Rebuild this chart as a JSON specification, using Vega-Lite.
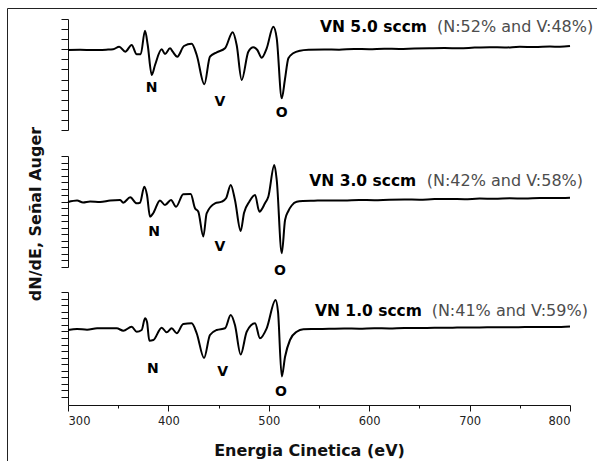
{
  "$schema": "https://vega.github.io/schema/vega-lite/v6.json",
  "width": 590,
  "height": 453,
  "autosize": {"type": "none"},
  "padding": {"left": 7, "top": 8, "right": 0, "bottom": 0},
  "background": "white",
  "config": {
    "view": {"stroke": "#222", "strokeWidth": 1},
    "font": "DejaVu Sans",
    "axis": {"grid": false, "domainColor": "#111", "tickColor": "#111", "domainWidth": 1, "tickWidth": 1}
  },
  "datasets": {
    "top": [
      {"e": 300, "h": 80}, {"e": 312, "h": 80.2}, {"e": 325, "h": 79.9}, {"e": 338, "h": 80.3},
      {"e": 345, "h": 80.7}, {"e": 351, "h": 83.3}, {"e": 357, "h": 78.3}, {"e": 363.4, "h": 85},
      {"e": 368.4, "h": 75.7}, {"e": 372.4, "h": 75.7}, {"e": 376.7, "h": 99.3}, {"e": 379.4, "h": 85},
      {"e": 383.4, "h": 55}, {"e": 386.7, "h": 65}, {"e": 393.3, "h": 80.7}, {"e": 396.6, "h": 76},
      {"e": 401.6, "h": 81.7}, {"e": 404.3, "h": 78.3}, {"e": 408.9, "h": 73.3}, {"e": 415.5, "h": 84},
      {"e": 423.2, "h": 86.3}, {"e": 428.2, "h": 75}, {"e": 435.8, "h": 45.7}, {"e": 441.4, "h": 73.3},
      {"e": 448.1, "h": 77.7}, {"e": 456.4, "h": 81.7}, {"e": 464, "h": 97.7}, {"e": 468, "h": 85},
      {"e": 473, "h": 50}, {"e": 479.6, "h": 78.3}, {"e": 484.6, "h": 82.7}, {"e": 488.6, "h": 80},
      {"e": 492.9, "h": 72.3}, {"e": 497.9, "h": 81.7}, {"e": 504.5, "h": 103.3}, {"e": 507.9, "h": 91.7},
      {"e": 512.9, "h": 31.7}, {"e": 516, "h": 50}, {"e": 519.5, "h": 71.7}, {"e": 524.3, "h": 76.7},
      {"e": 531.1, "h": 79.3}, {"e": 540, "h": 80.2}, {"e": 555, "h": 80.6}, {"e": 570, "h": 80.3},
      {"e": 585, "h": 81}, {"e": 600, "h": 80.8}, {"e": 615, "h": 81.3}, {"e": 630, "h": 81},
      {"e": 645, "h": 81.5}, {"e": 660, "h": 81.8}, {"e": 675, "h": 82}, {"e": 690, "h": 81.7},
      {"e": 705, "h": 82.4}, {"e": 720, "h": 82.8}, {"e": 735, "h": 82.5}, {"e": 750, "h": 83.2},
      {"e": 765, "h": 83}, {"e": 780, "h": 83.5}, {"e": 790, "h": 83.2}, {"e": 800, "h": 84}
    ],
    "mid": [
      {"e": 300, "h": 65}, {"e": 309, "h": 66.5}, {"e": 315, "h": 64.5}, {"e": 322, "h": 65.5},
      {"e": 332, "h": 65}, {"e": 342, "h": 66.5}, {"e": 352, "h": 67}, {"e": 355, "h": 64.3},
      {"e": 362, "h": 69.7}, {"e": 368.4, "h": 63.7}, {"e": 371.7, "h": 64.3}, {"e": 376, "h": 80.3},
      {"e": 378.7, "h": 72}, {"e": 381.7, "h": 50.3}, {"e": 385, "h": 54}, {"e": 391.6, "h": 66.5},
      {"e": 396.6, "h": 62}, {"e": 402.6, "h": 67}, {"e": 407.6, "h": 60.3}, {"e": 414.8, "h": 72.7},
      {"e": 422.2, "h": 73}, {"e": 426.5, "h": 58.7}, {"e": 429.8, "h": 55.3}, {"e": 434.8, "h": 30.5},
      {"e": 438.1, "h": 53.7}, {"e": 446.4, "h": 63.7}, {"e": 453.1, "h": 65.3}, {"e": 457.4, "h": 68.7},
      {"e": 462.1, "h": 82}, {"e": 466.3, "h": 67}, {"e": 472, "h": 36}, {"e": 475.3, "h": 54},
      {"e": 480.6, "h": 65.3}, {"e": 486.3, "h": 72}, {"e": 490.6, "h": 55.3}, {"e": 496.2, "h": 63.7},
      {"e": 499.5, "h": 70.3}, {"e": 505.5, "h": 102}, {"e": 507.9, "h": 87}, {"e": 512.9, "h": 13.7},
      {"e": 516.2, "h": 47}, {"e": 519.5, "h": 56}, {"e": 522.8, "h": 61.5}, {"e": 527.8, "h": 65.3},
      {"e": 534, "h": 66}, {"e": 545, "h": 66.3}, {"e": 560, "h": 66.6}, {"e": 575, "h": 66.4},
      {"e": 590, "h": 67}, {"e": 605, "h": 66.8}, {"e": 620, "h": 67.3}, {"e": 635, "h": 67.5},
      {"e": 650, "h": 67.3}, {"e": 665, "h": 67.9}, {"e": 680, "h": 68}, {"e": 695, "h": 67.8},
      {"e": 710, "h": 68.4}, {"e": 725, "h": 68.3}, {"e": 740, "h": 68.7}, {"e": 755, "h": 68.5},
      {"e": 770, "h": 69}, {"e": 785, "h": 68.9}, {"e": 800, "h": 69.3}
    ],
    "bot": [
      {"e": 300, "h": 75}, {"e": 309, "h": 76}, {"e": 319, "h": 75.3}, {"e": 329, "h": 76.7},
      {"e": 342, "h": 76.7}, {"e": 348.5, "h": 76.7}, {"e": 355.1, "h": 74.3}, {"e": 363.4, "h": 78.3},
      {"e": 368.4, "h": 73.3}, {"e": 373.4, "h": 75}, {"e": 376.7, "h": 86.7}, {"e": 378.7, "h": 83},
      {"e": 381, "h": 64.3}, {"e": 385, "h": 65}, {"e": 393.3, "h": 77.3}, {"e": 398.3, "h": 72.7},
      {"e": 403.3, "h": 76.7}, {"e": 408.3, "h": 71.7}, {"e": 414.8, "h": 81}, {"e": 423.2, "h": 81.7},
      {"e": 428.2, "h": 71.7}, {"e": 435.5, "h": 47}, {"e": 441.4, "h": 70}, {"e": 448.1, "h": 75},
      {"e": 456.4, "h": 76.7}, {"e": 462.1, "h": 90}, {"e": 466.3, "h": 80}, {"e": 472, "h": 50.5},
      {"e": 478, "h": 73.3}, {"e": 486.3, "h": 81.7}, {"e": 491.2, "h": 66.7}, {"e": 497.9, "h": 76.7},
      {"e": 506.7, "h": 105}, {"e": 509.2, "h": 93}, {"e": 512.9, "h": 28.5}, {"e": 516.2, "h": 48.3},
      {"e": 521.1, "h": 65}, {"e": 527.8, "h": 73.3}, {"e": 534.4, "h": 75.7}, {"e": 545, "h": 76},
      {"e": 560, "h": 76.2}, {"e": 575, "h": 76.5}, {"e": 590, "h": 76.3}, {"e": 605, "h": 76.8},
      {"e": 620, "h": 76.6}, {"e": 635, "h": 77}, {"e": 650, "h": 76.9}, {"e": 665, "h": 77.3},
      {"e": 680, "h": 77.2}, {"e": 695, "h": 77.6}, {"e": 710, "h": 77.5}, {"e": 725, "h": 77.8},
      {"e": 740, "h": 77.7}, {"e": 755, "h": 78}, {"e": 770, "h": 78.1}, {"e": 785, "h": 77.9},
      {"e": 800, "h": 78.4}
    ],
    "labels": [
      {"panel": "top", "kind": "peak", "e": 383.4, "h": 41.7, "t": "N"},
      {"panel": "top", "kind": "peak", "e": 451.4, "h": 28.3, "t": "V"},
      {"panel": "top", "kind": "peak", "e": 512.9, "h": 17.3, "t": "O"},
      {"panel": "top", "kind": "bold", "e": 551, "h": 97.7, "t": "VN 5.0 sccm"},
      {"panel": "top", "kind": "grey", "e": 667.5, "h": 97.7, "t": "(N:52% and V:48%)"},
      {"panel": "mid", "kind": "peak", "e": 385.7, "h": 35.3, "t": "N"},
      {"panel": "mid", "kind": "peak", "e": 451.4, "h": 19.7, "t": "V"},
      {"panel": "mid", "kind": "peak", "e": 511.2, "h": -3.7, "t": "O"},
      {"panel": "mid", "kind": "bold", "e": 540.3, "h": 81.3, "t": "VN 3.0 sccm"},
      {"panel": "mid", "kind": "grey", "e": 657.3, "h": 81.3, "t": "(N:42% and V:58%)"},
      {"panel": "bot", "kind": "peak", "e": 384.4, "h": 35.7, "t": "N"},
      {"panel": "bot", "kind": "peak", "e": 454.1, "h": 33.3, "t": "V"},
      {"panel": "bot", "kind": "peak", "e": 512.2, "h": 13.3, "t": "O"},
      {"panel": "bot", "kind": "bold", "e": 546, "h": 89.3, "t": "VN 1.0 sccm"},
      {"panel": "bot", "kind": "grey", "e": 662.2, "h": 89.3, "t": "(N:41% and V:59%)"}
    ]
  },
  "encoding": {
    "x": {
      "field": "e", "type": "quantitative",
      "scale": {"domain": [300, 800], "range": [61, 563], "nice": false, "zero": false},
      "axis": {
        "orient": "bottom", "offset": -56,
        "values": [300, 350, 400, 450, 500, 550, 600, 650, 700, 750, 800],
        "labelExpr": "datum.value % 100 === 0 ? datum.label : ''",
        "tickSize": {"condition": {"test": "datum.value % 100 === 0", "value": 6}, "value": 3},
        "labelFont": "DejaVu Sans", "labelFontSize": 11.5, "labelColor": "#222", "labelPadding": 4,
        "title": "Energia Cinetica (eV)", "titleFont": "DejaVu Sans", "titleFontSize": 16,
        "titleFontWeight": "bold", "titleColor": "#111",
        "titleX": 302, "titleY": 45, "titleAlign": "center", "titleBaseline": "middle"
      }
    }
  },
  "layer": [
    {
      "encoding": {
        "y": {
          "field": "h", "type": "quantitative",
          "scale": {"domain": [0, 111], "range": [122, 11], "nice": false, "zero": false},
          "axis": {"orient": "left", "offset": -61, "labels": false, "tickSize": 7, "title": null,
            "values": [0, 10.09, 20.18, 30.27, 40.36, 50.45, 60.55, 70.64, 80.73, 90.82, 100.91, 111]}
        }
      },
      "layer": [
        {"data": {"name": "top"}, "mark": {"type": "line", "color": "#000", "strokeWidth": 2, "interpolate": "monotone"}},
        {"data": {"name": "labels"}, "transform": [{"filter": "datum.panel === 'top' && datum.kind === 'peak'"}],
          "mark": {"type": "text", "font": "DejaVu Sans", "fontWeight": "bold", "fontSize": 14, "align": "center", "baseline": "middle", "color": "#000"},
          "encoding": {"text": {"field": "t"}}},
        {"data": {"name": "labels"}, "transform": [{"filter": "datum.panel === 'top' && datum.kind === 'bold'"}],
          "mark": {"type": "text", "font": "DejaVu Sans", "fontWeight": "bold", "fontSize": 15.5, "align": "left", "baseline": "alphabetic", "color": "#000"},
          "encoding": {"text": {"field": "t"}}},
        {"data": {"name": "labels"}, "transform": [{"filter": "datum.panel === 'top' && datum.kind === 'grey'"}],
          "mark": {"type": "text", "font": "DejaVu Sans", "fontSize": 16, "align": "left", "baseline": "alphabetic", "color": "#4d4d4d"},
          "encoding": {"text": {"field": "t"}}}
      ]
    },
    {
      "encoding": {
        "y": {
          "field": "h", "type": "quantitative",
          "scale": {"domain": [0, 111], "range": [259, 148], "nice": false, "zero": false},
          "axis": {"orient": "left", "offset": -61, "labels": false, "tickSize": 7,
            "values": [0, 6.53, 13.06, 19.59, 26.12, 32.65, 39.18, 45.71, 52.24, 58.76, 65.29, 71.82, 78.35, 84.88, 91.41, 97.94, 104.47, 111],
            "title": "dN/dE, Señal Auger", "titleFont": "DejaVu Sans", "titleFontSize": 16, "titleFontWeight": "bold",
            "titleColor": "#111", "titleX": -32.5, "titleY": 205.5, "titleAngle": 270, "titleAlign": "center", "titleBaseline": "middle"}
        }
      },
      "layer": [
        {"data": {"name": "mid"}, "mark": {"type": "line", "color": "#000", "strokeWidth": 2, "interpolate": "monotone"}},
        {"data": {"name": "labels"}, "transform": [{"filter": "datum.panel === 'mid' && datum.kind === 'peak'"}],
          "mark": {"type": "text", "font": "DejaVu Sans", "fontWeight": "bold", "fontSize": 14, "align": "center", "baseline": "middle", "color": "#000"},
          "encoding": {"text": {"field": "t"}}},
        {"data": {"name": "labels"}, "transform": [{"filter": "datum.panel === 'mid' && datum.kind === 'bold'"}],
          "mark": {"type": "text", "font": "DejaVu Sans", "fontWeight": "bold", "fontSize": 15.5, "align": "left", "baseline": "alphabetic", "color": "#000"},
          "encoding": {"text": {"field": "t"}}},
        {"data": {"name": "labels"}, "transform": [{"filter": "datum.panel === 'mid' && datum.kind === 'grey'"}],
          "mark": {"type": "text", "font": "DejaVu Sans", "fontSize": 16, "align": "left", "baseline": "alphabetic", "color": "#4d4d4d"},
          "encoding": {"text": {"field": "t"}}}
      ]
    },
    {
      "encoding": {
        "y": {
          "field": "h", "type": "quantitative",
          "scale": {"domain": [0, 113], "range": [397, 284], "nice": false, "zero": false},
          "axis": {"orient": "left", "offset": -61, "labels": false, "tickSize": 7, "title": null,
            "values": [8, 14.56, 21.13, 27.69, 34.25, 40.81, 47.38, 53.94, 60.5, 67.06, 73.63, 80.19, 86.75, 93.31, 99.88, 106.44, 113]}
        }
      },
      "layer": [
        {"data": {"name": "bot"}, "mark": {"type": "line", "color": "#000", "strokeWidth": 2, "interpolate": "monotone"}},
        {"data": {"name": "labels"}, "transform": [{"filter": "datum.panel === 'bot' && datum.kind === 'peak'"}],
          "mark": {"type": "text", "font": "DejaVu Sans", "fontWeight": "bold", "fontSize": 14, "align": "center", "baseline": "middle", "color": "#000"},
          "encoding": {"text": {"field": "t"}}},
        {"data": {"name": "labels"}, "transform": [{"filter": "datum.panel === 'bot' && datum.kind === 'bold'"}],
          "mark": {"type": "text", "font": "DejaVu Sans", "fontWeight": "bold", "fontSize": 15.5, "align": "left", "baseline": "alphabetic", "color": "#000"},
          "encoding": {"text": {"field": "t"}}},
        {"data": {"name": "labels"}, "transform": [{"filter": "datum.panel === 'bot' && datum.kind === 'grey'"}],
          "mark": {"type": "text", "font": "DejaVu Sans", "fontSize": 16, "align": "left", "baseline": "alphabetic", "color": "#4d4d4d"},
          "encoding": {"text": {"field": "t"}}}
      ]
    }
  ],
  "resolve": {"scale": {"y": "independent"}, "axis": {"y": "independent"}}
}
